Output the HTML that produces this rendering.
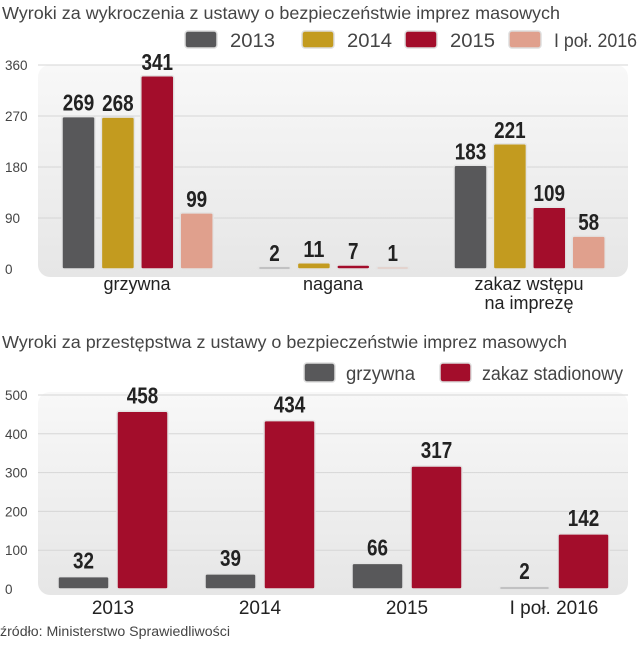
<!DOCTYPE html>
<html><head><meta charset="utf-8"><style>
body{margin:0;background:#fff;width:639px;height:640px;overflow:hidden}
svg text{font-family:"Liberation Sans Narrow","Liberation Sans",sans-serif}
</style></head><body>
<svg id="s" width="639" height="640" xmlns="http://www.w3.org/2000/svg">
<defs>
<linearGradient id="pg" x1="0" y1="0" x2="0" y2="1"><stop offset="0" stop-color="#f8f8f8"/><stop offset="1" stop-color="#e6e6e6"/></linearGradient>
</defs>
</svg>
<script>
const ns="http://www.w3.org/2000/svg";
const svg=document.getElementById('s');
// chart 1 data
const c1Categories=["grzywna","nagana","zakaz wstępu|na imprezę"];
const c1Series=["2013","2014","2015","I poł. 2016"];
const c1Values2013=[269,2,183];
const c1Values2014=[268,11,221];
const c1Values2015=[341,7,109];
const c1Values2016=[99,1,58];
const c1Ticks=[0,90,180,270,360];
// chart 2 data
const c2Categories=["2013","2014","2015","I poł. 2016"];
const c2Series=["grzywna","zakaz stadionowy"];
const c2Grzywna=[32,39,66,2];
const c2Zakaz=[458,434,317,142];
const c2Ticks=[0,100,200,300,400,500];

const colors1=["#58585a","#c39b1f","#a30d2b","#e0a08d"];
const colors2=["#58585a","#a30d2b"];

function el(tag,attrs,parent){const e=document.createElementNS(ns,tag);for(const k in attrs)e.setAttribute(k,attrs[k]);(parent||svg).appendChild(e);return e;}
function txt(x,y,s,size,opts,parent){const t=el('text',Object.assign({x:x,y:y,'font-size':size,fill:'#333'},opts||{}),parent);t.textContent=s;return t;}

// titles
let t=txt(2,19,"Wyroki za wykroczenia z ustawy o bezpieczeństwie imprez masowych",17.5,{fill:'#444','font-family':'"Liberation Sans",sans-serif',textLength:558,lengthAdjust:'spacingAndGlyphs'});


t=txt(2,348,"Wyroki za przestępstwa z ustawy o bezpieczeństwie imprez masowych",17.5,{fill:'#444','font-family':'"Liberation Sans",sans-serif',textLength:565,lengthAdjust:'spacingAndGlyphs'});



// legend 1
const lg1x=[185,302,405,509];
c1Series.forEach((s,i)=>{
  const r=el('rect',{x:lg1x[i],y:31,width:32,height:17,rx:3,fill:colors1[i],stroke:'#ddd','stroke-width':1.5});
  
  
  const l=txt(lg1x[i]+45,47,s,19,{fill:'#444','font-family':'"Liberation Sans",sans-serif',textLength:s.length>4?83:45,lengthAdjust:'spacingAndGlyphs'});
  
  
});
// legend 2
const lg2x=[304,440];
c2Series.forEach((s,i)=>{
  const r=el('rect',{x:lg2x[i],y:363,width:31,height:19,rx:3,fill:colors2[i],stroke:'#ddd','stroke-width':1.5});
  
  
  const l=txt(lg2x[i]+42,380,s,19,{fill:'#444','font-family':'"Liberation Sans",sans-serif',textLength:i?141:69,lengthAdjust:'spacingAndGlyphs'});
  
  
});

// chart 1
const y1=v=>269-v*(204/360);
let p=el('rect',{x:38,y:65,width:590,height:212,rx:12,fill:'url(#pg)'});


c1Ticks.forEach(v=>{
  if(v>0){const g=el('line',{x1:38,x2:628,y1:y1(v),y2:y1(v),stroke:'#d6d6d6','stroke-width':1});
  
  }
  const l=txt(5,y1(v)+5,String(v),13.5,{fill:'#444','font-family':'"Liberation Sans",sans-serif'});
  
  
});
const c1All=[c1Values2013,c1Values2014,c1Values2015,c1Values2016];
c1Categories.forEach((c,ci)=>{
  const gx=62+ci*196;
  c1All.forEach((arr,si)=>{
    const v=arr[ci];const x=gx+si*39.4;const top=y1(v);
    const h=Math.max(269-top,2);
    const b=el('rect',{x:x,y:269-h,width:33,height:h,rx:2,fill:colors1[si],stroke:'#e4e4e4','stroke-width':1.5});
    
    
    const s=String(v);
    const l=txt(x+16.5,269-h-6,s,23,{'font-weight':'bold','text-anchor':'middle',fill:'#222',textLength:s.length*10.5,lengthAdjust:'spacingAndGlyphs'});
    
    
  });
  const parts=c.split('|');
  parts.forEach((s,k)=>{
    const l=txt(gx+75,290+k*19,s,18,{'text-anchor':'middle',fill:'#222'});
    
    
  });
});

// chart 2
const y2=v=>589-v*(194/500);
p=el('rect',{x:38,y:392,width:590,height:203,rx:12,fill:'url(#pg)'});


c2Ticks.forEach(v=>{
  if(v>0){const g=el('line',{x1:38,x2:628,y1:y2(v),y2:y2(v),stroke:'#d6d6d6','stroke-width':1});
  
  }
  const l=txt(5,y2(v)+5,String(v),13.5,{fill:'#444','font-family':'"Liberation Sans",sans-serif'});
  
  
});
const c2All=[c2Grzywna,c2Zakaz];
c2Categories.forEach((c,ci)=>{
  const gx=58+ci*147;
  c2All.forEach((arr,si)=>{
    const v=arr[ci];const x=gx+si*59;const top=y2(v);
    const h=Math.max(589-top,2);
    const b=el('rect',{x:x,y:589-h,width:51,height:h,rx:2,fill:colors2[si],stroke:'#e4e4e4','stroke-width':1.5});
    
    
    const s=String(v);
    const l=txt(x+25.5,589-h-8,s,23,{'font-weight':'bold','text-anchor':'middle',fill:'#222',textLength:s.length*10.5,lengthAdjust:'spacingAndGlyphs'});
    
    
  });
  const l=txt(gx+55,614,c,19,{'text-anchor':'middle',fill:'#222','font-family':'"Liberation Sans",sans-serif'});
  
  
});
t=txt(0,636,"źródło: Ministerstwo Sprawiedliwości",13.5,{fill:'#444',textLength:230,lengthAdjust:'spacingAndGlyphs'});


</script>
</body></html>
